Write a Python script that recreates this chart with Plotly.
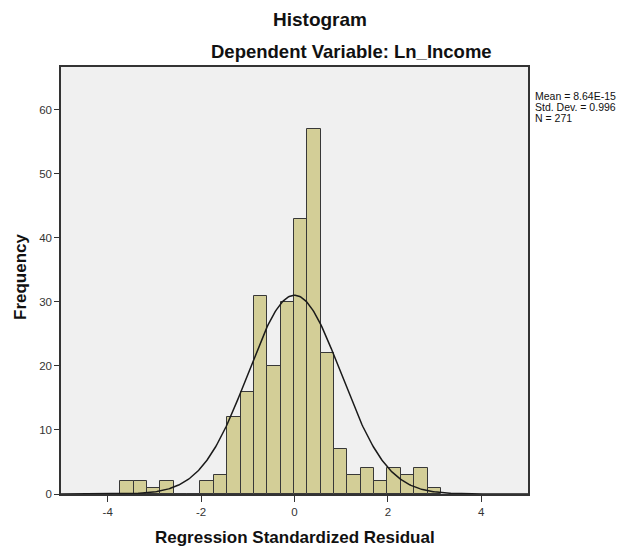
import numpy as np
import plotly.graph_objects as go

# ---- data ----
bin_start = -3.73
bin_width = 0.286
counts = [2, 2, 1, 2, 0, 0, 2, 3, 12, 16, 31, 20, 30, 43, 57, 22, 7, 3, 4, 2, 4, 3, 4, 1]
resid_mean = 8.64e-15
resid_sd = 0.996
n_obs = 271
x_ticks = [-4, -2, 0, 2, 4]
x_tick_labels = ["-4", "-2", "0", "2", "4"]
y_ticks = [0, 10, 20, 30, 40, 50, 60]
stats_lines = ["Mean = 8.64E-15", f"Std. Dev. = {resid_sd}", f"N = {n_obs}"]

centers = [bin_start + (i + 0.5) * bin_width for i in range(len(counts))]

# fitted normal curve (model overlay)
xc = np.linspace(-5, 5, 400)
yc = n_obs * bin_width / (resid_sd * np.sqrt(2 * np.pi)) * np.exp(-0.5 * ((xc - resid_mean) / resid_sd) ** 2)

FONT = "Arial, Liberation Sans, sans-serif"
OFF = 8  # default page body margin
W, H = 633 - OFF, 546 - OFF
L, R, T, B = 61 - OFF, 633 - 528, 67 - OFF, 546 - 494
PW, PH = W - L - R, H - T - B


def px(x):
    return (x - 61) / PW


def py(y):
    return (494 - y) / PH


fig = go.Figure()
fig.add_trace(go.Bar(
    x=centers, y=counts, width=bin_width,
    marker=dict(color="#d3ce97", line=dict(color="#383838", width=1)),
    showlegend=False, hoverinfo="x+y",
))
fig.add_trace(go.Scatter(
    x=xc, y=yc, mode="lines", line=dict(color="#1a1a1a", width=1.5),
    showlegend=False, hoverinfo="skip",
))

annotations = [
    dict(text="<b>Histogram</b>", xref="paper", yref="paper", x=px(320), y=py(19),
         showarrow=False, xanchor="center", yanchor="middle", font=dict(size=19, color="#111")),
    dict(text="<b>Dependent Variable: Ln_Income</b>", xref="paper", yref="paper",
         x=px(351), y=py(52),
         showarrow=False, xanchor="center", yanchor="middle", font=dict(size=18.5, color="#111")),
    dict(text="<b>Regression Standardized Residual</b>", xref="paper", yref="paper",
         x=px(295), y=py(537),
         showarrow=False, xanchor="center", yanchor="middle", font=dict(size=17, color="#111")),
    dict(text="<b>Frequency</b>", xref="paper", yref="paper", textangle=-90,
         x=px(20), y=py(277),
         showarrow=False, xanchor="center", yanchor="middle", font=dict(size=17, color="#111")),
]
for i, line in enumerate(stats_lines):
    annotations.append(dict(
        text=line, xref="paper", yref="paper", x=px(533), y=py(96 + 11 * i),
        showarrow=False, xanchor="left", yanchor="middle", align="left",
        font=dict(size=10.5, color="#111")))

fig.update_layout(
    width=W, height=H,
    margin=dict(l=L, r=R, t=T, b=B, autoexpand=False),
    paper_bgcolor="white", plot_bgcolor="#f0f0f0",
    font=dict(family=FONT, color="#222"),
    bargap=0,
    xaxis=dict(
        range=[-5, 5], tickvals=x_ticks, ticktext=x_tick_labels, ticks="outside", ticklen=6, tickwidth=1,
        tickcolor="#333", showgrid=False, zeroline=False, automargin=False,
        showline=True, linecolor="#333", linewidth=1.5, mirror=True,
        tickfont=dict(size=11.5, color="#333"),
    ),
    yaxis=dict(
        range=[0, 66.7], tickvals=y_ticks, ticks="outside", ticklen=5, tickwidth=1,
        tickcolor="#333", showgrid=False, zeroline=False, automargin=False,
        showline=True, linecolor="#333", linewidth=1.5, mirror=True,
        tickfont=dict(size=11.5, color="#333"),
    ),
    annotations=annotations,
)

fig.write_html("out.html")
